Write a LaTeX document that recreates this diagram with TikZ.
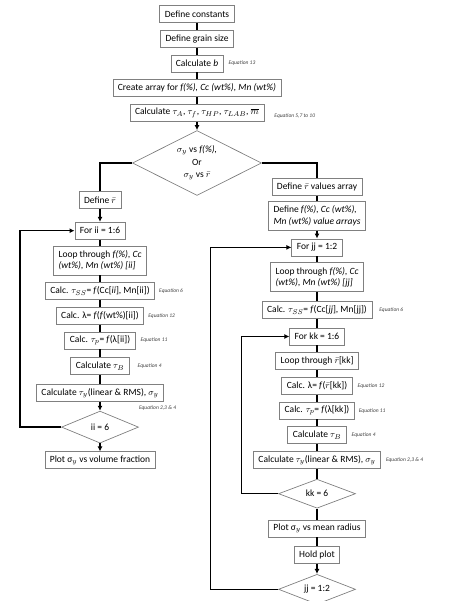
\documentclass[tikz,border=0pt]{standalone}
\usepackage{fontspec}
\setmainfont{Carlito}
\usetikzlibrary{positioning, arrows.meta, shapes.geometric}

\begin{document}
\begin{tikzpicture}[
		x=1pt, y=-1pt,
		>={Latex[length=5pt, width=5pt]}, % Arrow style
		every node/.style={font=\fontsize{9.5}{11.5}\selectfont},
		box/.style={draw=gray, line width=0.7pt, minimum height=17pt, inner xsep=5pt, inner ysep=2pt},
		twoline/.style={box, align=left, minimum height=29pt},
		decision/.style={draw=gray, line width=0.7pt, diamond, aspect=2.4, inner sep=0pt, align=center},
		conn/.style={line width=1.4pt},
		eqn/.style={font=\fontsize{5.5}{6}\selectfont\itshape, text=black!75, inner sep=0pt}
	]

	\useasboundingbox (0,0) rectangle (452,601);

	% Main column
	\node[box] (consts) at (197,14) {Define constants};
	\node[box, below=7pt of consts] (grain) {Define grain size};
	\node[box, below=7pt of grain] (calcb) {Calculate \textit{b}};
	\node[box, below=7pt of calcb] (arrays) {Create array for \textit{f(\%), Cc (wt\%), Mn (wt\%)}};
	\node[box, below=7pt of arrays] (calctau) {Calculate $\tau_A$, $\tau_f$, $\tau_{HP}$, $\tau_{LAB}$, $\overline{m}$};
	\node[eqn, right=5pt of calcb] {Equation 13};
	\node[eqn, right=10pt of calctau, yshift=-3pt] {Equation 5,7 to 10};

	% Choice of plot
	\node[decision, minimum width=129pt, minimum height=65pt, font=\fontsize{9.5}{12.5}\selectfont] (choice) at (197,163)
		{$\sigma_y$ vs \textit{f(\%),}\\Or\\$\sigma_y$ vs $\bar{r}$};

	\draw[conn] (consts) -- (grain);
	\draw[conn] (grain) -- (calcb);
	\draw[conn] (calcb) -- (arrays);
	\draw[conn] (arrays) -- (calctau);
	\draw[conn, ->] (calctau) -- (choice);

	% Left branch: volume fraction
	\node[box] (defr) at (100,200) {Define $\bar{r}$};
	\node[box, below=13pt of defr] (forii) {For ii = 1:6};
	\node[twoline, below=6pt of forii] (loopii) {Loop through \textit{f(\%), Cc}\\\textit{(wt\%), Mn (wt\%) [ii]}};
	\node[box, below=7pt of loopii] (tssii) {Calc. $\tau_{SS}$= \textit{f}(Cc[\textit{ii}], Mn[ii])};
	\node[box, below=7pt of tssii] (lamii) {Calc. λ= \textit{f}(\textit{f}(wt\%)[ii])};
	\node[box, below=7pt of lamii] (tpii) {Calc. $\tau_p$= \textit{f}(λ[ii])};
	\node[box, below=8pt of tpii] (tbii) {Calculate $\tau_B$};
	\node[box, below=9pt of tbii] (tyii) {Calculate $\tau_y$(linear \& RMS), $\sigma_y$};
	\node[decision, below=9pt of tyii, minimum width=77pt, minimum height=32pt] (iidec) {ii = 6};
	\node[box, below=8pt of iidec] (plotii) {Plot σ$_y$ vs volume fraction};

	\node[eqn, right=4pt of tssii] {Equation 6};
	\node[eqn, right=4pt of lamii] {Equation 12};
	\node[eqn, right=5pt of tpii] {Equation 11};
	\node[eqn, right=8pt of tbii] {Equation 4};
	\node[eqn, below right=4pt and -25pt of tyii.south east] {Equation 2,3 \& 4};

	\draw[conn] (choice.west) -| (defr.north);
	\draw[conn, ->] (defr) -- (forii);
	\draw[conn] (forii) -- (loopii);
	\draw[conn] (loopii) -- (tssii);
	\draw[conn] (tssii) -- (lamii);
	\draw[conn] (lamii) -- (tpii);
	\draw[conn] (tpii) -- (tbii);
	\draw[conn] (tbii) -- (tyii);
	\draw[conn, ->] (tyii) -- (iidec);
	\draw[conn, ->] (iidec) -- (plotii);
	\draw[conn, ->] (iidec.west) -- ++(-41,0) |- (forii.west);

	% Right branch: mean radius
	\node[box] (rvals) at (317,187) {Define $\bar{r}$ values array};
	\node[twoline, below=5pt of rvals] (deff) {Define \textit{f(\%), Cc (wt\%),}\\\textit{Mn (wt\%) value arrays}};
	\node[box, below=8pt of deff] (forjj) {For jj = 1:2};
	\node[twoline, below=6pt of forjj] (loopjj) {Loop through \textit{f(\%), Cc}\\\textit{(wt\%), Mn (wt\%) [jj]}};
	\node[box, below=9pt of loopjj] (tssjj) {Calc. $\tau_{SS}$= \textit{f}(Cc[\textit{jj}], Mn[jj])};
	\node[box, below=9pt of tssjj] (forkk) {For kk = 1:6};
	\node[box, below=7pt of forkk] (loopkk) {Loop through $\bar{r}$[kk]};
	\node[box, below=7pt of loopkk] (lamkk) {Calc. λ= \textit{f}($\bar{r}$[kk])};
	\node[box, below=7pt of lamkk] (tpkk) {Calc. $\tau_p$= \textit{f}(λ[kk])};
	\node[box, below=7pt of tpkk] (tbkk) {Calculate $\tau_B$};
	\node[box, below=7pt of tbkk] (tykk) {Calculate $\tau_y$(linear \& RMS), $\sigma_y$};
	\node[decision, below=10pt of tykk, minimum width=77pt, minimum height=29pt] (kkdec) {kk = 6};
	\node[box, below=11pt of kkdec] (plotkk) {Plot σ$_y$ vs mean radius};
	\node[box, below=9pt of plotkk] (hold) {Hold plot};
	\node[decision, below=10pt of hold, minimum width=77pt, minimum height=30pt] (jjdec) {jj = 1:2};

	\node[eqn, right=7pt of tssjj] {Equation 6};
	\node[eqn, right=5pt of lamkk] {Equation 12};
	\node[eqn, right=4pt of tpkk] {Equation 11};
	\node[eqn, right=5pt of tbkk] {Equation 4};
	\node[eqn, right=5pt of tykk] {Equation 2,3 \& 4};

	\draw[conn] (choice.east) -| (rvals.north);
	\draw[conn] (rvals) -- (deff);
	\draw[conn, ->] (deff) -- (forjj);
	\draw[conn] (forjj) -- (loopjj);
	\draw[conn] (loopjj) -- (tssjj);
	\draw[conn] (tssjj) -- (forkk);
	\draw[conn] (forkk) -- (loopkk);
	\draw[conn] (loopkk) -- (lamkk);
	\draw[conn] (lamkk) -- (tpkk);
	\draw[conn] (tpkk) -- (tbkk);
	\draw[conn] (tbkk) -- (tykk);
	\draw[conn] (tykk) -- (kkdec);
	\draw[conn] (kkdec) -- (plotkk);
	\draw[conn] (plotkk) -- (hold);
	\draw[conn, ->] (hold) -- (jjdec);
	\draw[conn, ->] (kkdec.west) -- ++(-36.5,0) |- (forkk.west);
	\draw[conn, ->] (jjdec.west) -- ++(-67.5,0) |- (forjj.west);

\end{tikzpicture}
\end{document}
